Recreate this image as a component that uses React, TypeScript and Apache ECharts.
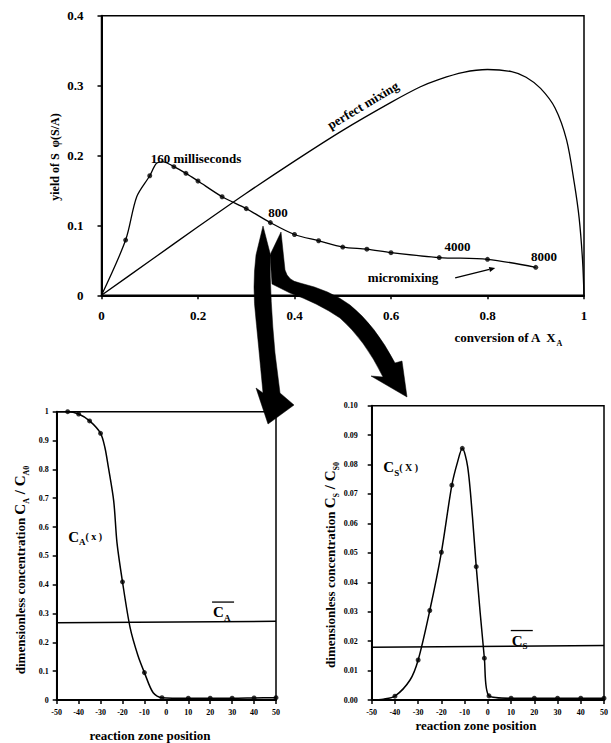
import React, { useEffect, useRef } from "react";
import * as echarts from "echarts";

const FONT = '"Liberation Serif", "Times New Roman", serif';
const FAM = "Liberation Serif";

// ---------- top chart: yield of S vs conversion of A ----------
const topXTicks = ["0", "0.2", "0.4", "0.6", "0.8", "1"];
const topYTicks = ["0", "0.1", "0.2", "0.3", "0.4"];

const perfectX = [0, 0.1, 0.2, 0.3, 0.4, 0.5, 0.6, 0.66, 0.7, 0.75, 0.8, 0.85, 0.88, 0.91, 0.94, 0.964, 0.98, 0.99, 0.997, 1];
const perfectY = [0, 0.049, 0.098, 0.146, 0.192, 0.236, 0.276, 0.298, 0.309, 0.319, 0.323, 0.32, 0.312, 0.296, 0.268, 0.222, 0.16, 0.11, 0.05, 0];

const microCurveX = [0, 0.05, 0.073, 0.1, 0.114, 0.128, 0.15, 0.175, 0.2, 0.25, 0.3, 0.35, 0.4, 0.45, 0.5, 0.55, 0.6, 0.7, 0.8, 0.9];
const microCurveY = [0, 0.079, 0.141, 0.171, 0.189, 0.191, 0.184, 0.1745, 0.1635, 0.141, 0.124, 0.104, 0.087, 0.078, 0.069, 0.066, 0.061, 0.054, 0.0515, 0.04];
const microMarkX = [0.05, 0.1, 0.15, 0.175, 0.2, 0.25, 0.3, 0.35, 0.4, 0.45, 0.5, 0.55, 0.6, 0.7, 0.8, 0.9];
const microMarkY = [0.079, 0.171, 0.184, 0.1745, 0.1635, 0.141, 0.124, 0.104, 0.087, 0.078, 0.069, 0.066, 0.061, 0.054, 0.0515, 0.04];

// annotations (data coordinates of the top chart)
const topNotes = ["160 milliseconds", "800", "4000", "8000", "micromixing"];
const topNoteX = [0.196, 0.366, 0.738, 0.917, 0.625];
const topNoteY = [0.195, 0.118, 0.0705, 0.056, 0.026];
const perfectNote = { text: "perfect mixing", x: 0.542, y: 0.272, angle: 31 };
const microArrowX = [0.733, 0.816];
const microArrowY = [0.0248, 0.039];

// ---------- bottom-left: C_A(x) ----------
const posTicks = ["-50", "-40", "-30", "-20", "-10", "0", "10", "20", "30", "40", "50"];
const caYTicks = ["0", "0.1", "0.2", "0.3", "0.4", "0.5", "0.6", "0.7", "0.8", "0.9", "1"];
const caCurveX = [-50, -45, -40, -35, -30, -28, -26.5, -24, -22.5, -20, -16.5, -13, -10, -6, -2, 10, 20, 30, 40, 50];
const caCurveY = [1.0, 1.0, 0.992, 0.968, 0.925, 0.875, 0.81, 0.69, 0.545, 0.41, 0.25, 0.155, 0.095, 0.025, 0.008, 0.006, 0.006, 0.006, 0.007, 0.008];
const caMarkX = [-45, -40, -35, -30, -20, -10, -2, 10, 20, 30, 40, 50];
const caMarkY = [1.0, 0.992, 0.968, 0.925, 0.41, 0.095, 0.008, 0.006, 0.006, 0.006, 0.007, 0.008];
const caMeanX = [-50, 50];
const caMeanY = [0.268, 0.273];

// ---------- bottom-right: C_S(x) ----------
const csYTicks = ["0.00", "0.01", "0.02", "0.03", "0.04", "0.05", "0.06", "0.07", "0.08", "0.09", "0.10"];
const csCurveX = [-50, -45, -40, -33.5, -30, -25, -20, -15.5, -13, -11, -8.7, -6.6, -5, -1.5, 0.5, 10, 20, 30, 40, 50];
const csCurveY = [0, 0.0003, 0.0013, 0.0068, 0.0136, 0.0304, 0.0502, 0.073, 0.081, 0.0855, 0.0793, 0.062, 0.0453, 0.0142, 0.0014, 0.0006, 0.0006, 0.0006, 0.0006, 0.0006];
const csMarkX = [-40, -30, -25, -20, -15.5, -11, -5, -1.5, 0.5, 10, 20, 30, 40, 50];
const csMarkY = [0.0013, 0.0136, 0.0304, 0.0502, 0.073, 0.0855, 0.0453, 0.0142, 0.0014, 0.0006, 0.0006, 0.0006, 0.0006, 0.0006];
const csMeanX = [-50, 50];
const csMeanY = [0.0179, 0.0185];

// label anchors in bottom charts (data coordinates)
const caLabel = { x: -37, y: 0.566 };
const caBarLabel = { x: 21.3, y: 0.305 };
const csLabel = { x: -45, y: 0.0791 };
const csBarLabel = { x: 10.3, y: 0.0202 };

// big hand-drawn arrows (svg paths, page pixels)
const dLeftArrow =
  "M263,226 L270,253 Q270,300 275,353 L280,393 L294,405 L268,424 L256,388 L263,393 Q258,340 256,320 Q252,287 256,255 Z";
const dRightArrow =
  "M281,232 L285,270 Q288,281 300,283 Q330,290 350,305 Q375,325 395,363 L402,361 L407,397 L371,376 L383,377 Q365,340 340,318 Q318,303 290,293 L272,284 L270,255 Z";
echarts.graphic.registerShape("bigArrowLeft", echarts.graphic.extendPath(dLeftArrow, {}) as any);
echarts.graphic.registerShape("bigArrowRight", echarts.graphic.extendPath(dRightArrow, {}) as any);

const zip = (xs: number[], ys: number[]) => xs.map((x, i) => [x, ys[i]]);

function valAxis(gridIndex: number, min: number, max: number, interval: number, labels: string[], fontSize: number, margin: number) {
  return {
    type: "value",
    gridIndex,
    min,
    max,
    interval,
    axisLine: { show: true, onZero: false, lineStyle: { color: "#000", width: 2 } },
    axisTick: { show: true, length: 4, lineStyle: { color: "#000", width: 1.5 } },
    axisLabel: {
      formatter: (v: number) => labels[Math.round((v - min) / interval)] ?? "",
      fontSize,
      fontWeight: "bold",
      fontFamily: FAM,
      color: "#000",
      margin,
    },
    splitLine: { show: false },
  };
}

const lineS = (xi: number, data: number[][], width: number, smooth: number | boolean) => ({
  type: "line",
  xAxisIndex: xi,
  yAxisIndex: xi,
  data,
  smooth,
  showSymbol: false,
  silent: true,
  lineStyle: { color: "#000", width },
});

const dotS = (xi: number, data: number[][], size: number) => ({
  type: "scatter",
  xAxisIndex: xi,
  yAxisIndex: xi,
  data,
  symbolSize: size,
  silent: true,
  itemStyle: { color: "#000" },
});

const option: any = {
  animation: false,
  backgroundColor: "#fff",
  grid: [
    { left: 101.5, top: 15.7, width: 482.5, height: 279.6, show: true, borderColor: "#000", borderWidth: 1.5, backgroundColor: "transparent" },
    { left: 56.7, top: 411.7, width: 219.3, height: 288.3, show: true, borderColor: "#000", borderWidth: 1.5, backgroundColor: "transparent" },
    { left: 371.7, top: 405.7, width: 234.3, height: 294.3, show: true, borderColor: "#000", borderWidth: 1.5, backgroundColor: "transparent" },
  ],
  xAxis: [
    valAxis(0, 0, 1, 0.2, topXTicks, 13, 14),
    valAxis(1, -50, 50, 10, posTicks, 8, 8),
    valAxis(2, -50, 50, 10, posTicks, 8, 8),
  ],
  yAxis: [
    valAxis(0, 0, 0.4, 0.1, topYTicks, 13, 18),
    valAxis(1, 0, 1, 0.1, caYTicks, 8, 8),
    valAxis(2, 0, 0.1, 0.01, csYTicks, 8, 14),
  ],
  series: [
    lineS(0, zip(perfectX, perfectY), 1.3, 0.3),
    lineS(0, zip(microCurveX, microCurveY), 1.3, 0.3),
    dotS(0, zip(microMarkX, microMarkY), 5),
    lineS(1, zip(caCurveX, caCurveY), 1.5, 0.3),
    dotS(1, zip(caMarkX, caMarkY), 5),
    lineS(1, zip(caMeanX, caMeanY), 1.5, false),
    lineS(2, zip(csCurveX, csCurveY), 1.5, 0.3),
    dotS(2, zip(csMarkX, csMarkY), 5),
    lineS(2, zip(csMeanX, csMeanY), 1.5, false),
  ],
};

const tok = (size: number, extra: any = {}) => ({
  fontSize: size,
  fontWeight: "bold",
  fontFamily: FAM,
  fill: "#000",
  lineHeight: 20,
  ...extra,
});

function buildGraphic(chart: any) {
  const P = (g: number, x: number, y: number) => chart.convertToPixel({ gridIndex: g }, [x, y]) as number[];
  const els: any[] = [];
  const boldFont = (s: number) => `bold ${s}px ${FONT}`;

  topNotes.forEach((t, i) => {
    const p = P(0, topNoteX[i], topNoteY[i]);
    els.push({ type: "text", x: p[0], y: p[1], z: 50, style: { text: t, font: boldFont(13), fill: "#000", align: "center", verticalAlign: "middle" } });
  });
  {
    const p = P(0, perfectNote.x, perfectNote.y);
    els.push({
      type: "text",
      x: p[0],
      y: p[1],
      rotation: (perfectNote.angle * Math.PI) / 180,
      z: 50,
      style: { text: perfectNote.text, font: boldFont(13), fill: "#000", align: "center", verticalAlign: "middle" },
    });
  }
  {
    const a = P(0, microArrowX[0], microArrowY[0]);
    const b = P(0, microArrowX[1], microArrowY[1]);
    const ang = Math.atan2(b[1] - a[1], b[0] - a[0]);
    const hl = 6, hw = 2.5;
    const bx = b[0] - hl * Math.cos(ang), by = b[1] - hl * Math.sin(ang);
    els.push({ type: "line", z: 50, shape: { x1: a[0], y1: a[1], x2: bx, y2: by }, style: { stroke: "#000", lineWidth: 1.3 } });
    els.push({
      type: "polygon",
      z: 50,
      shape: {
        points: [
          [b[0], b[1]],
          [bx + hw * Math.sin(ang), by - hw * Math.cos(ang)],
          [bx - hw * Math.sin(ang), by + hw * Math.cos(ang)],
        ],
      },
      style: { fill: "#000" },
    });
  }

  // labels of the lower charts
  {
    const p = P(1, caLabel.x, caLabel.y);
    els.push({
      type: "text", x: p[0], y: p[1], z: 50,
      style: {
        text: "{c|C}{s|A}{p|( x )}", align: "center", verticalAlign: "middle",
        rich: { c: tok(15), s: tok(9, { verticalAlign: "bottom" }), p: tok(10) },
      },
    });
  }
  {
    const p = P(1, caBarLabel.x, caBarLabel.y);
    els.push({
      type: "text", x: p[0], y: p[1], z: 50,
      style: { text: "{c|C}{s|A}", align: "left", verticalAlign: "middle", rich: { c: tok(15), s: tok(9, { verticalAlign: "bottom" }) } },
    });
    els.push({ type: "line", z: 50, shape: { x1: p[0] - 1, y1: p[1] - 10, x2: p[0] + 21, y2: p[1] - 10 }, style: { stroke: "#000", lineWidth: 1.3 } });
  }
  {
    const p = P(2, csLabel.x, csLabel.y);
    els.push({
      type: "text", x: p[0], y: p[1], z: 50,
      style: {
        text: "{c|C}{s|S}{p|( X )}", align: "left", verticalAlign: "middle",
        rich: { c: tok(15), s: tok(9, { verticalAlign: "bottom" }), p: tok(10) },
      },
    });
  }
  {
    const p = P(2, csBarLabel.x, csBarLabel.y);
    els.push({
      type: "text", x: p[0], y: p[1], z: 50,
      style: { text: "{c|C}{s|S}", align: "left", verticalAlign: "middle", rich: { c: tok(15), s: tok(9, { verticalAlign: "bottom" }) } },
    });
    els.push({ type: "line", z: 50, shape: { x1: p[0] - 1, y1: p[1] - 10, x2: p[0] + 21, y2: p[1] - 10 }, style: { stroke: "#000", lineWidth: 1.3 } });
  }

  // axis titles
  els.push({
    type: "text", x: 55, y: 157, rotation: Math.PI / 2, z: 50,
    style: { text: "yield of S  \u03c6(S/A)", font: boldFont(12), fill: "#000", align: "center", verticalAlign: "middle" },
  });
  els.push({
    type: "text", x: 508, y: 337, z: 50,
    style: {
      text: "{t|conversion of A  X}{s|A}", align: "center", verticalAlign: "middle",
      rich: { t: tok(13), s: tok(8, { verticalAlign: "bottom" }) },
    },
  });
  els.push({
    type: "text", x: 20, y: 570, rotation: Math.PI / 2, z: 50,
    style: {
      text: "{t|dimensionless concentration }{c|C}{s|A}{c| / C}{s|A0}", align: "center", verticalAlign: "middle",
      rich: { t: tok(13), c: tok(15), s: tok(8, { verticalAlign: "bottom" }) },
    },
  });
  els.push({
    type: "text", x: 150, y: 735, z: 50,
    style: { text: "reaction zone position", font: boldFont(13), fill: "#000", align: "center", verticalAlign: "middle" },
  });
  els.push({
    type: "text", x: 330, y: 565, rotation: Math.PI / 2, z: 50,
    style: {
      text: "{t|dimensionless concentration }{c|C}{s|S}{c| / C}{s|S0}", align: "center", verticalAlign: "middle",
      rich: { t: tok(13), c: tok(15), s: tok(8, { verticalAlign: "bottom" }) },
    },
  });
  els.push({
    type: "text", x: 476, y: 725, z: 50,
    style: { text: "reaction zone position", font: boldFont(13), fill: "#000", align: "center", verticalAlign: "middle" },
  });

  // big arrows
  els.push({ type: "bigArrowLeft", x: 0, y: 0, z: 100, style: { fill: "#000", stroke: "#000", lineWidth: 0.5 } });
  els.push({ type: "bigArrowRight", x: 0, y: 0, z: 100, style: { fill: "#000", stroke: "#000", lineWidth: 0.5 } });
  return els;
}

export default function App() {
  const ref = useRef<HTMLDivElement>(null);
  useEffect(() => {
    const chart = echarts.init(ref.current!, null, { renderer: "svg" });
    chart.setOption(option);
    chart.setOption({ graphic: buildGraphic(chart) });
    return () => chart.dispose();
  }, []);
  return (
    <div
      ref={ref}
      style={{ position: "absolute", left: 0, top: 0, width: 611, height: 743, background: "#fff" }}
    />
  );
}
